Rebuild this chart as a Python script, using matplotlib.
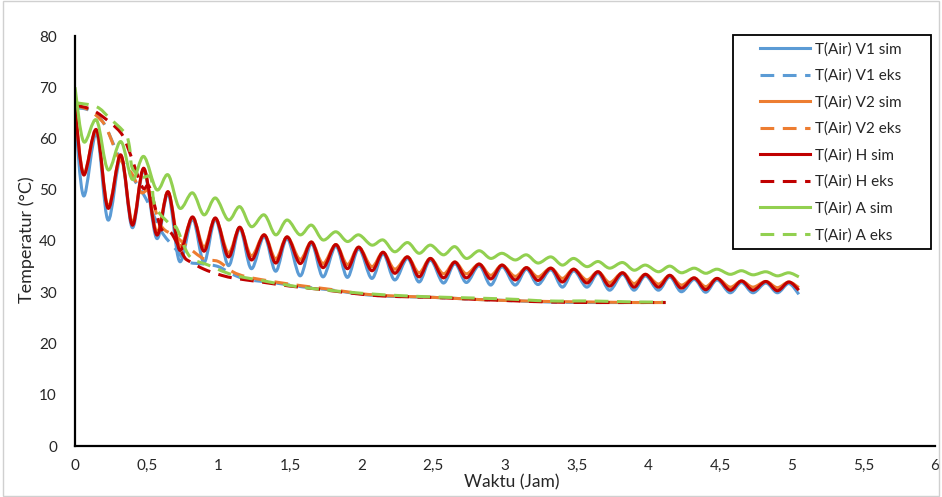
import numpy as np
import matplotlib
matplotlib.use("Agg")
import matplotlib.pyplot as plt
from matplotlib.path import Path
from matplotlib.patches import PathPatch, Rectangle
from matplotlib.lines import Line2D
from matplotlib.ticker import FuncFormatter

plt.rcParams['font.family'] = ['Lato', 'DejaVu Sans']

# ---------------- data ----------------
sim_t = [0, 0.06, 0.15, 0.23, 0.32, 0.40, 0.48, 0.57, 0.65, 0.73, 0.82, 0.90, 0.98,
         1.07, 1.15, 1.23, 1.32, 1.40, 1.48, 1.57, 1.65, 1.73, 1.82, 1.90, 1.98,
         2.07, 2.15, 2.23, 2.32, 2.40, 2.48, 2.57, 2.65, 2.73, 2.82, 2.90, 2.98,
         3.07, 3.15, 3.23, 3.32, 3.40, 3.48, 3.57, 3.65, 3.73, 3.82, 3.90, 3.98,
         4.07, 4.15, 4.23, 4.32, 4.40, 4.48, 4.57, 4.65, 4.73, 4.82, 4.90, 4.98, 5.05]

v1_sim = [65.0, 48.8, 61.0, 44.1, 56.3, 42.6, 53.8, 40.5, 49.2, 36.0, 44.3, 35.8, 44.2,
          35.2, 42.4, 34.6, 40.9, 34.1, 40.5, 33.2, 39.5, 33.0, 39.0, 32.9, 38.5,
          32.7, 37.5, 32.4, 36.6, 32.0, 36.3, 31.8, 35.6, 31.9, 35.2, 31.4, 35.0,
          31.4, 34.5, 31.5, 34.4, 31.0, 34.2, 31.0, 33.7, 30.4, 33.5, 30.4, 33.2,
          30.4, 33.0, 30.1, 32.5, 30.0, 32.4, 29.9, 31.9, 29.9, 31.8, 29.9, 31.7, 29.6]

v2_sim = [66.0, 53.2, 61.5, 46.8, 56.6, 43.6, 54.0, 41.8, 49.6, 39.0, 44.6, 38.8, 44.4,
          37.7, 42.6, 37.1, 41.2, 36.5, 40.8, 36.4, 39.8, 35.6, 39.3, 35.4, 38.8,
          35.0, 37.8, 34.5, 36.9, 33.8, 36.6, 33.6, 35.9, 33.6, 35.5, 33.3, 35.3,
          33.1, 34.8, 33.0, 34.7, 32.7, 34.5, 32.4, 34.0, 31.9, 33.8, 31.7, 33.5,
          31.6, 33.3, 31.4, 32.8, 31.1, 32.7, 31.0, 32.2, 31.0, 32.1, 30.9, 32.0, 30.9]

h_sim = [66.0, 52.9, 61.7, 46.4, 56.8, 43.1, 54.2, 41.2, 49.6, 38.2, 44.7, 38.0, 44.5,
         36.9, 42.7, 36.3, 41.2, 35.7, 40.8, 35.6, 39.8, 34.8, 39.3, 34.6, 38.8,
         34.2, 37.8, 33.7, 36.9, 33.0, 36.6, 32.8, 35.9, 32.8, 35.5, 32.6, 35.3,
         32.4, 34.8, 32.3, 34.7, 32.0, 34.5, 31.8, 34.0, 31.2, 33.8, 31.0, 33.5,
         31.0, 33.3, 30.8, 32.8, 30.5, 32.7, 30.4, 32.2, 30.4, 32.1, 30.3, 32.0, 30.4]

a_sim = [70.0, 59.4, 63.6, 53.9, 59.4, 52.0, 56.5, 50.0, 52.9, 46.4, 49.4, 45.1, 48.4,
         44.1, 46.7, 42.8, 45.1, 41.2, 44.1, 41.2, 43.1, 40.2, 41.8, 39.9, 41.2,
         39.2, 40.2, 37.9, 39.7, 37.6, 39.2, 37.3, 38.9, 36.6, 38.1, 36.6, 37.6,
         36.3, 37.3, 35.7, 36.9, 35.3, 36.6, 35.0, 36.0, 34.7, 35.8, 34.3, 35.3,
         34.0, 35.1, 33.8, 34.7, 33.7, 34.5, 33.5, 34.2, 33.4, 34.0, 33.2, 33.8, 33.0]

v1_eks_t = [0, 0.1, 0.2, 0.3, 0.4, 0.5, 0.6, 0.7, 0.78, 0.9, 1.0, 1.1, 1.2, 1.4,
            1.6, 1.8, 2.0, 2.2, 2.5, 2.8, 3.0, 3.3, 3.6, 3.9, 4.12]
v1_eks = [66.0, 65.5, 63.0, 57.0, 52.5, 48.0, 42.0, 38.5, 36.0, 35.5, 35.0, 33.5, 32.5, 31.8,
          31.0, 30.4, 29.6, 29.2, 29.0, 28.6, 28.4, 28.1, 28.0, 28.0, 28.0]

v2_eks_t = [0, 0.1, 0.2, 0.25, 0.3, 0.4, 0.46, 0.52, 0.6, 0.7, 0.78, 0.9, 1.0, 1.1, 1.2, 1.4,
            1.6, 1.8, 2.0, 2.2, 2.5, 2.8, 3.0, 3.3, 3.6, 3.9, 4.12]
v2_eks = [66.5, 65.5, 63.0, 60.0, 56.5, 53.0, 49.5, 49.5, 43.0, 41.0, 39.0, 36.5, 36.0, 34.0,
          33.0, 32.0, 31.2, 30.5, 29.7, 29.3, 29.0, 28.6, 28.4, 28.2, 28.1, 28.0, 28.0]

h_eks_t = [0, 0.12, 0.25, 0.33, 0.38, 0.47, 0.52, 0.6, 0.67, 0.76, 0.8, 0.9, 1.0, 1.1, 1.3,
           1.5, 1.7, 2.0, 2.2, 2.5, 2.8, 3.0, 3.3, 3.6, 3.9, 4.12]
h_eks = [66.5, 65.6, 63.0, 60.7, 57.4, 50.5, 50.5, 42.5, 41.6, 37.0, 36.0, 34.5, 33.5, 32.8,
         32.0, 31.2, 30.6, 29.6, 29.2, 29.0, 28.6, 28.4, 28.1, 28.0, 28.0, 28.0]

a_eks_t = [0, 0.15, 0.24, 0.35, 0.38, 0.4, 0.47, 0.53, 0.56, 0.68, 0.71, 0.8, 0.93, 1.1,
           1.3, 1.5, 1.7, 2.0, 2.3, 2.6, 3.0, 3.3, 3.6, 3.9, 4.1]
a_eks = [67.0, 66.2, 64.0, 61.0, 58.4, 54.2, 52.5, 52.3, 46.7, 42.8, 42.5, 37.0, 35.3, 33.4,
         32.3, 31.3, 30.6, 29.8, 29.3, 29.0, 28.7, 28.3, 28.3, 28.1, 28.1]

labels = ["T(Air) V1 sim", "T(Air) V1 eks", "T(Air) V2 sim", "T(Air) V2 eks",
          "T(Air) H sim", "T(Air) H eks", "T(Air) A sim", "T(Air) A eks"]
x_ticks = [0, 0.5, 1, 1.5, 2, 2.5, 3, 3.5, 4, 4.5, 5, 5.5, 6]
y_ticks = [0, 10, 20, 30, 40, 50, 60, 70, 80]

# ---------------- style ----------------
C_V1 = '#5B9BD5'
C_V2 = '#ED7D31'
C_H = '#C00000'
C_A = '#92D050'
LW = 2.2
DASH = (0, (4.5, 2.8))
W, H = 942, 497


def smooth_path(x, y):
    """Excel-like smoothed line: cubic Bezier through the data points."""
    pts = np.column_stack([np.asarray(x, float), np.asarray(y, float)])
    n = len(pts)
    verts = [pts[0]]
    codes = [Path.MOVETO]
    for i in range(n - 1):
        p0 = pts[i - 1] if i > 0 else pts[i]
        p1 = pts[i]
        p2 = pts[i + 1]
        p3 = pts[i + 2] if i + 2 < n else pts[i + 1]
        verts += [p1 + (p2 - p0) / 6.0, p2 - (p3 - p1) / 6.0, p2]
        codes += [Path.CURVE4] * 3
    return Path(verts, codes)


fig = plt.figure(figsize=(W / 100, H / 100), dpi=100)
ax = fig.add_axes([75 / W, 1 - 446 / H, (935 - 75) / W, (446 - 36) / H])

series = [
    (sim_t, v1_sim, C_V1, '-'),
    (v1_eks_t, v1_eks, C_V1, DASH),
    (sim_t, v2_sim, C_V2, '-'),
    (v2_eks_t, v2_eks, C_V2, DASH),
    (sim_t, h_sim, C_H, '-'),
    (h_eks_t, h_eks, C_H, DASH),
    (sim_t, a_sim, C_A, '-'),
    (a_eks_t, a_eks, C_A, DASH),
]
handles = []
for (xx, yy, col, ls), lab in zip(series, labels):
    patch = PathPatch(smooth_path(xx, yy), fill=False, edgecolor=col, lw=LW,
                      linestyle=ls, capstyle='butt', joinstyle='round')
    ax.add_patch(patch)
    handles.append(Line2D([], [], color=col, lw=LW, linestyle=ls))

ax.set_xlim(0, 6)
ax.set_ylim(0, 80)
ax.set_xticks(x_ticks)
ax.set_yticks(y_ticks)
ax.xaxis.set_major_formatter(FuncFormatter(lambda v, p: ('%g' % v).replace('.', ',')))
ax.tick_params(axis='both', length=0, labelsize=11, colors='#262626')
ax.tick_params(axis='x', pad=9)
ax.tick_params(axis='y', pad=13)
for s in ['top', 'right']:
    ax.spines[s].set_visible(False)
for s in ['left', 'bottom']:
    ax.spines[s].set_color('black')
    ax.spines[s].set_linewidth(1.6)

fig.text(512 / W, 1 - 482 / H, "Waktu (Jam)", ha='center', va='center',
         fontsize=12.5, color='#262626')
fig.text(27 / W, 1 - 240 / H, "Temperatur (\u00b0C)", ha='center', va='center',
         rotation=90, fontsize=13, color='#262626')

leg = fig.legend(handles, labels, loc='upper left',
                 bbox_to_anchor=(760 / W, 1 - 42 / H),
                 fontsize=11, frameon=False, handlelength=3.3,
                 handletextpad=0.3, labelspacing=0.8, borderpad=0,
                 borderaxespad=0)
for t in leg.get_texts():
    t.set_color('#262626')

# legend frame as in the reference
fig.patches.append(Rectangle((733 / W, 1 - 249 / H), (931 - 733) / W, (249 - 35) / H,
                             transform=fig.transFigure, fill=False,
                             edgecolor='black', lw=1.3))
# chart-area border
fig.patches.append(Rectangle((0.003, 0.003), 0.994, 0.994, transform=fig.transFigure,
                             fill=False, edgecolor='#d0d0d0', lw=1))

fig.savefig("out.png", dpi=100)
